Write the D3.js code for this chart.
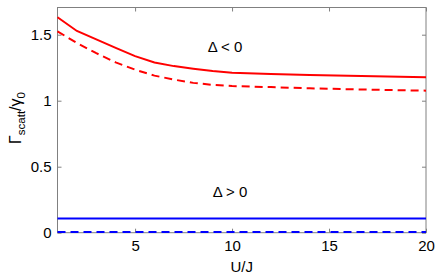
<!DOCTYPE html>
<html><head><meta charset="utf-8">
<script src="https://cdn.jsdelivr.net/npm/d3@7"></script>
<style>body{margin:0;background:#fff}text{font-family:"Liberation Sans",Arial,sans-serif}</style>
</head><body>
<script>
const xVals = [1, 2, 3, 4, 5, 6, 7, 8, 9, 10, 12, 14, 16, 18, 20];
const redSolid = [1.632, 1.528, 1.465, 1.40, 1.338, 1.29, 1.262, 1.242, 1.225, 1.212, 1.203, 1.195, 1.189, 1.183, 1.177];
const redDashed = [1.525, 1.437, 1.36, 1.29, 1.235, 1.19, 1.16, 1.135, 1.12, 1.111, 1.103, 1.094, 1.087, 1.081, 1.076];
const blueSolid = [0.107, 0.107, 0.107, 0.107, 0.107, 0.107, 0.107, 0.107, 0.107, 0.107, 0.107, 0.107, 0.107, 0.107, 0.107];
const blueDashed = [0.006, 0.006, 0.006, 0.006, 0.006, 0.006, 0.006, 0.006, 0.006, 0.006, 0.006, 0.006, 0.006, 0.006, 0.006];
const xTicks = [5, 10, 15, 20];
const yTicks = [0, 0.5, 1, 1.5];
const yTickLabels = ["0", "0.5", "1", "1.5"];

const W = 436, H = 275;
const L = 57.5, R = 426, T = 7.5, B = 232.7;
const svg = d3.select("body").append("svg").attr("width", W).attr("height", H);
const x = d3.scaleLinear().domain([1, 20]).range([L, R]);
const y = d3.scaleLinear().domain([0, 1.706]).range([B, T]);

const axisColor = "#808080";
svg.append("rect").attr("x", L).attr("y", T).attr("width", R - L).attr("height", B - T)
  .attr("fill", "none").attr("stroke", axisColor).attr("stroke-width", 1);

const fs = "15px";
const xb = svg.append("g").attr("transform", `translate(0,${B})`)
  .call(d3.axisBottom(x).tickValues(xTicks).tickSize(-4).tickPadding(8).tickFormat(d3.format("d")));
const xt = svg.append("g").attr("transform", `translate(0,${T})`)
  .call(d3.axisTop(x).tickValues(xTicks).tickSize(-4).tickFormat(""));
const yl = svg.append("g").attr("transform", `translate(${L},0)`)
  .call(d3.axisLeft(y).tickValues(yTicks).tickSize(-4).tickPadding(6).tickFormat((d, i) => yTickLabels[i]));
const yr = svg.append("g").attr("transform", `translate(${R},0)`)
  .call(d3.axisRight(y).tickValues(yTicks).tickSize(-4).tickFormat(""));
[xb, xt, yl, yr].forEach(g => {
  g.select(".domain").remove();
  g.selectAll(".tick line").attr("stroke", axisColor);
  g.selectAll(".tick text").attr("fill", "#000").style("font-size", fs).style("font-family", '"Liberation Sans",Arial,sans-serif');
});

const line = arr => d3.line().x((d, i) => x(xVals[i])).y(d => y(d))(arr);
const plot = svg.append("g");
plot.append("path").attr("d", line(redSolid)).attr("fill", "none").attr("stroke", "#ff0000").attr("stroke-width", 2);
plot.append("path").attr("d", line(redDashed)).attr("fill", "none").attr("stroke", "#ff0000").attr("stroke-width", 2).attr("stroke-dasharray", "8,5");
plot.append("path").attr("d", line(blueSolid)).attr("fill", "none").attr("stroke", "#0000ff").attr("stroke-width", 2);
plot.append("path").attr("d", line(blueDashed)).attr("fill", "none").attr("stroke", "#0000ff").attr("stroke-width", 2).attr("stroke-dasharray", "8,5");

svg.append("text").attr("x", 225).attr("y", 52).attr("text-anchor", "middle").style("font-size", fs).text("Δ < 0");
svg.append("text").attr("x", 230).attr("y", 197).attr("text-anchor", "middle").style("font-size", fs).text("Δ > 0");

svg.append("text").attr("x", x(10.5)).attr("y", 272).attr("text-anchor", "middle").style("font-size", fs).text("U/J");
const ylab = svg.append("text").attr("transform", "translate(21,118) rotate(-90)").attr("text-anchor", "middle").style("font-size", "16px");
ylab.append("tspan").text("Γ");
ylab.append("tspan").attr("dy", 4).style("font-size", "11.5px").text("scatt");
ylab.append("tspan").attr("dy", -4).text("/γ");
ylab.append("tspan").attr("dy", 4).style("font-size", "11.5px").text("0");
</script>
</body></html>
